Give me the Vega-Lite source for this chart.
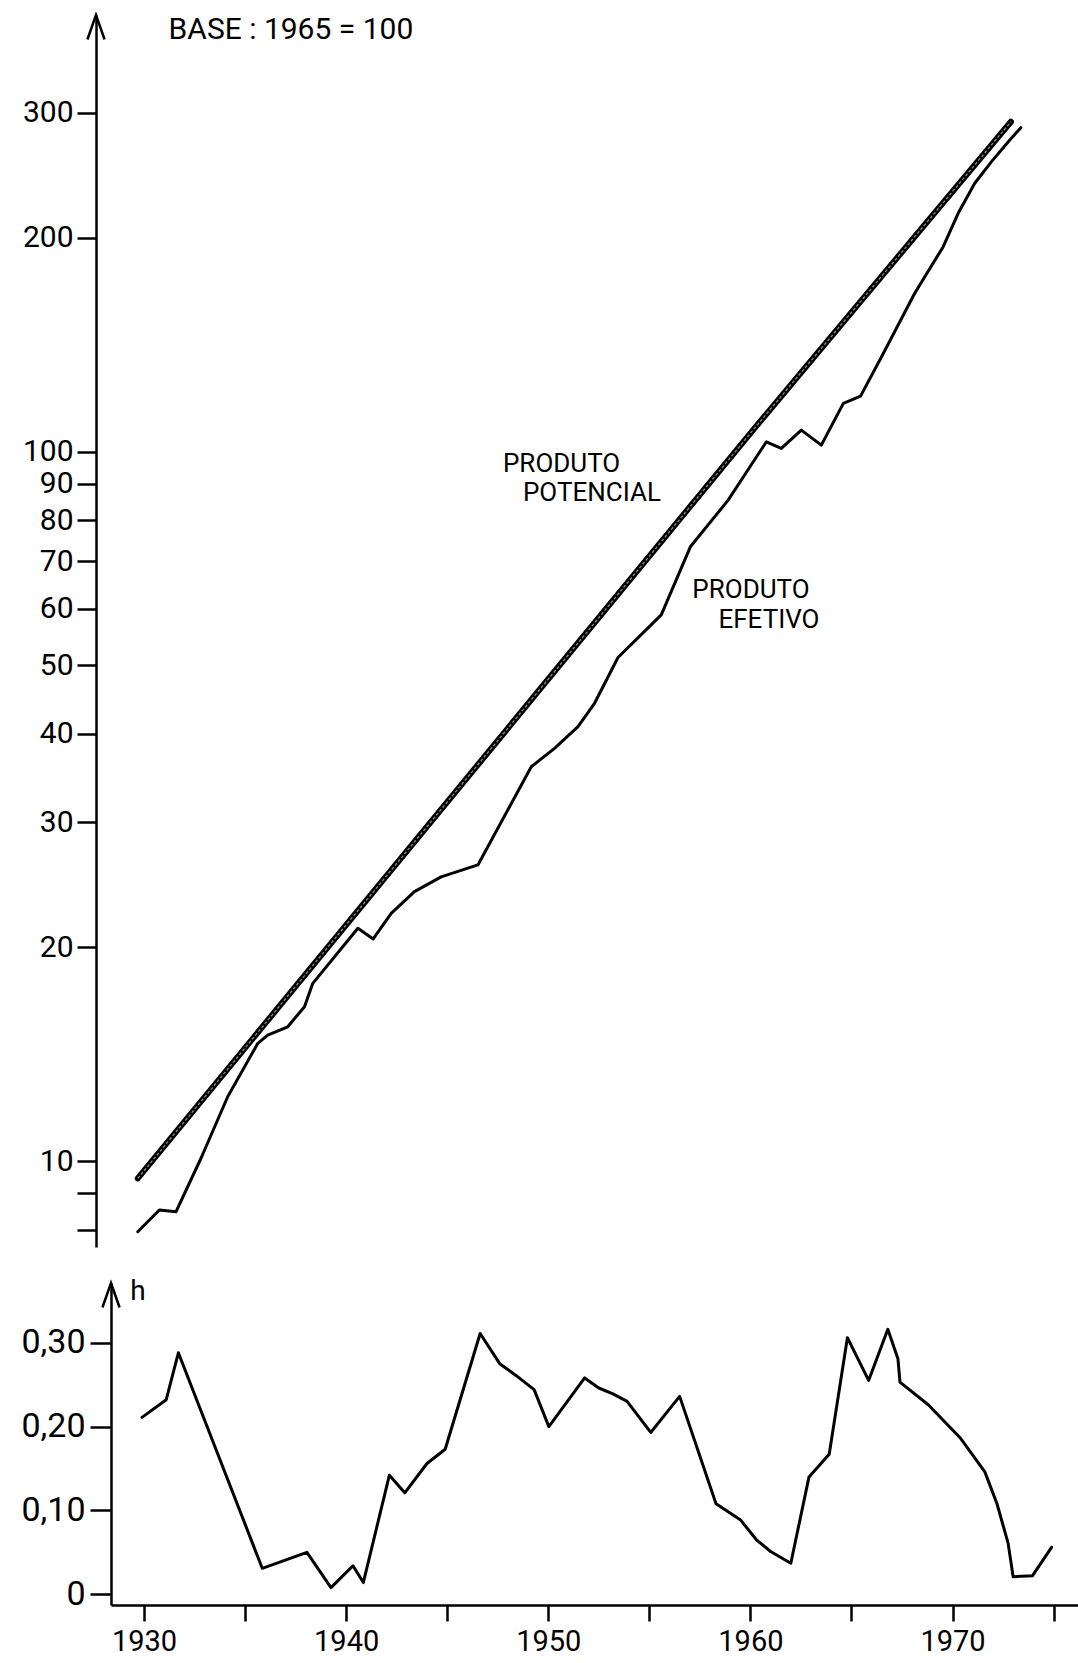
{
  "$schema": "https://vega.github.io/schema/vega-lite/v6.json",
  "background": "white",
  "padding": {"left": 20, "top": 10, "right": 0, "bottom": 0},
  "spacing": 36,
  "bounds": "flush",
  "config": {
    "view": {"stroke": null},
    "font": "Roboto",
    "axis": {
      "domainColor": "black", "tickColor": "black", "labelColor": "black",
      "domainWidth": 2.5, "tickWidth": 2.5, "grid": false,
      "labelFont": "Roboto", "labelOverlap": false, "labelBound": false, "labelFlush": false,
      "title": null
    }
  },
  "datasets": {
    "potencial": [
      {"year": 1929.69, "value": 9.45},
      {"year": 1960.2, "value": 107.8},
      {"year": 1972.89, "value": 291.6}
    ],
    "efetivo": [
      {"year": 1929.69, "value": 7.95},
      {"year": 1930.76, "value": 8.53},
      {"year": 1931.58, "value": 8.48},
      {"year": 1932.82, "value": 10.09},
      {"year": 1934.14, "value": 12.32},
      {"year": 1935.63, "value": 14.65},
      {"year": 1936.12, "value": 15.05},
      {"year": 1937.11, "value": 15.46},
      {"year": 1937.94, "value": 16.5},
      {"year": 1938.35, "value": 17.8},
      {"year": 1940.58, "value": 21.28},
      {"year": 1941.34, "value": 20.56},
      {"year": 1942.23, "value": 22.34},
      {"year": 1943.38, "value": 23.97},
      {"year": 1944.7, "value": 25.15},
      {"year": 1946.52, "value": 26.14},
      {"year": 1949.16, "value": 35.95},
      {"year": 1950.31, "value": 38.16},
      {"year": 1951.47, "value": 40.94},
      {"year": 1952.29, "value": 44.17},
      {"year": 1953.45, "value": 51.25},
      {"year": 1955.59, "value": 58.84},
      {"year": 1957.03, "value": 73.4},
      {"year": 1958.9, "value": 85.4},
      {"year": 1960.79, "value": 103.2},
      {"year": 1961.53, "value": 101.0},
      {"year": 1962.52, "value": 107.2},
      {"year": 1963.51, "value": 102.1},
      {"year": 1964.6, "value": 116.9},
      {"year": 1965.45, "value": 119.7},
      {"year": 1966.49, "value": 136.0},
      {"year": 1968.13, "value": 167.1},
      {"year": 1969.54, "value": 194.4},
      {"year": 1970.28, "value": 216.6},
      {"year": 1971.1, "value": 238.8},
      {"year": 1971.93, "value": 256.2},
      {"year": 1972.76, "value": 273.3},
      {"year": 1973.38, "value": 286.0}
    ],
    "toplabels": [
      {"year": 1950.66, "value": 95.9, "label": "PRODUTO"},
      {"year": 1952.16, "value": 87.5, "label": "POTENCIAL"},
      {"year": 1960.03, "value": 63.8, "label": "PRODUTO"},
      {"year": 1960.92, "value": 57.8, "label": "EFETIVO"}
    ],
    "base": [
      {"year": 1937.27, "value": 392.6, "label": "BASE : 1965 = 100"}
    ],
    "toparrow": [
      {"year": 1927.625, "value": 396.2}
    ],
    "h": [
      {"year": 1929.9, "h": 0.211},
      {"year": 1931.1, "h": 0.232},
      {"year": 1931.7, "h": 0.288},
      {"year": 1935.85, "h": 0.031},
      {"year": 1938.06, "h": 0.05},
      {"year": 1939.25, "h": 0.008},
      {"year": 1940.34, "h": 0.034},
      {"year": 1940.85, "h": 0.014},
      {"year": 1942.14, "h": 0.142},
      {"year": 1942.9, "h": 0.121},
      {"year": 1944.0, "h": 0.156},
      {"year": 1944.9, "h": 0.173},
      {"year": 1946.63, "h": 0.311},
      {"year": 1947.6, "h": 0.275},
      {"year": 1948.4, "h": 0.261},
      {"year": 1949.3, "h": 0.244},
      {"year": 1950.03, "h": 0.2},
      {"year": 1951.8, "h": 0.258},
      {"year": 1952.5, "h": 0.246},
      {"year": 1953.2, "h": 0.239},
      {"year": 1953.9, "h": 0.23},
      {"year": 1955.07, "h": 0.193},
      {"year": 1956.5, "h": 0.236},
      {"year": 1958.3, "h": 0.108},
      {"year": 1959.5, "h": 0.089},
      {"year": 1960.3, "h": 0.065},
      {"year": 1961.0, "h": 0.051},
      {"year": 1962.0, "h": 0.037},
      {"year": 1962.9, "h": 0.14},
      {"year": 1963.9, "h": 0.167},
      {"year": 1964.8, "h": 0.306},
      {"year": 1965.85, "h": 0.255},
      {"year": 1966.8, "h": 0.316},
      {"year": 1967.3, "h": 0.281},
      {"year": 1967.4, "h": 0.253},
      {"year": 1968.8, "h": 0.226},
      {"year": 1970.4, "h": 0.186},
      {"year": 1971.6, "h": 0.146},
      {"year": 1972.2, "h": 0.108},
      {"year": 1972.75, "h": 0.061},
      {"year": 1973.0, "h": 0.021},
      {"year": 1973.95, "h": 0.022},
      {"year": 1974.9, "h": 0.056}
    ],
    "bottomarrow": [
      {"year": 1928.367, "h": 0.3566}
    ],
    "hlabel": [
      {"year": 1929.7, "h": 0.3604, "label": "h"}
    ]
  },
  "vconcat": [
    {
      "width": 968,
      "height": 1232,
      "encoding": {
        "x": {"field": "year", "type": "quantitative", "scale": {"domain": [1928.367, 1976.258], "nice": false, "zero": false}, "axis": null},
        "y": {"field": "value", "type": "quantitative",
          "scale": {"type": "log", "domain": [7.565, 412.3], "nice": false},
          "axis": {
            "values": [8, 9, 10, 20, 30, 40, 50, 60, 70, 80, 90, 100, 200, 300],
            "format": "d",
            "labelExpr": "datum.value < 10 ? '' : datum.label",
            "tickSize": 19, "labelPadding": 4, "labelFontSize": 30, "offset": 15
          }
        }
      },
      "layer": [
        {"data": {"name": "potencial"}, "mark": {"type": "line", "color": "black", "strokeWidth": 6, "strokeCap": "round"}},
        {"data": {"name": "potencial"}, "mark": {"type": "line", "color": "#8a8a8a", "strokeWidth": 1.3, "strokeCap": "butt", "strokeDash": [3, 2]}},
        {"data": {"name": "efetivo"}, "mark": {"type": "line", "color": "black", "strokeWidth": 3, "strokeJoin": "round", "strokeCap": "round"}},
        {"data": {"name": "toplabels"}, "mark": {"type": "text", "font": "Roboto", "fontSize": 26, "align": "center", "baseline": "middle", "color": "black"},
          "encoding": {"text": {"field": "label"}}},
        {"data": {"name": "base"}, "mark": {"type": "text", "font": "Roboto", "fontSize": 30, "align": "center", "baseline": "middle", "color": "black"},
          "encoding": {"text": {"field": "label"}}},
        {"data": {"name": "toparrow"}, "mark": {"type": "point", "shape": "M-0.7,1L0,-1L0.7,1", "size": 600, "filled": false, "stroke": "black", "strokeWidth": 2.5, "opacity": 1}}
      ]
    },
    {
      "width": 968,
      "height": 322,
      "encoding": {
        "x": {"field": "year", "type": "quantitative", "scale": {"domain": [1928.367, 1976.258], "nice": false, "zero": false},
          "axis": {
            "values": [1930, 1935, 1940, 1945, 1950, 1955, 1960, 1965, 1970, 1975],
            "format": "d",
            "labelExpr": "datum.value % 10 == 0 ? datum.label : ''",
            "tickSize": 16, "labelPadding": 6, "labelFontSize": 29
          }
        },
        "y": {"field": "h", "type": "quantitative",
          "scale": {"domain": [-0.01276, 0.3712], "nice": false, "zero": false},
          "axis": {
            "values": [0, 0.1, 0.2, 0.3],
            "labelExpr": "datum.value == 0 ? '0' : replace(format(datum.value, '.2f'), '.', ',')",
            "tickSize": 21, "labelPadding": 5, "labelFontSize": 34
          }
        }
      },
      "layer": [
        {"data": {"name": "h"}, "mark": {"type": "line", "color": "black", "strokeWidth": 3, "strokeJoin": "round", "strokeCap": "round"}},
        {"data": {"name": "bottomarrow"}, "mark": {"type": "point", "shape": "M-0.7,1L0,-1L0.7,1", "size": 600, "filled": false, "stroke": "black", "strokeWidth": 2.5, "opacity": 1}},
        {"data": {"name": "hlabel"}, "mark": {"type": "text", "font": "Roboto", "fontSize": 28, "align": "center", "baseline": "middle", "color": "black"},
          "encoding": {"text": {"field": "label"}}}
      ]
    }
  ]
}
